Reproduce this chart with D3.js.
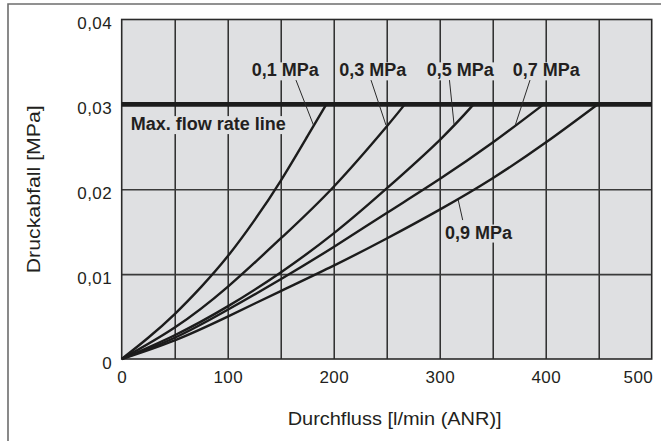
<!DOCTYPE html>
<meta charset="utf-8">
<script src="https://d3js.org/d3.v7.min.js"></script>
<style>
  body { margin: 0; background: #fff; }
  text { font-family: "Liberation Sans", Arial, Helvetica, sans-serif; fill: #231f20; }
</style>
<div id="chart"></div>
<script>
    // curve labels (supply pressure)
    var pressures = ["0,1 MPa", "0,3 MPa", "0,5 MPa", "0,7 MPa", "0,9 MPa"];

    // flow [l/min (ANR)] and pressure drop [MPa]
    var flow01 = [0, 25, 50, 75, 100, 125, 150, 175, 193];
    var drop01 = [0, 0.0025, 0.0053, 0.0085, 0.0121, 0.0163, 0.0210, 0.0262, 0.030];
    var flow03 = [0, 50, 100, 150, 200, 250, 267];
    var drop03 = [0, 0.0037, 0.0085, 0.0142, 0.0203, 0.0274, 0.030];
    var flow05 = [0, 50, 100, 150, 200, 250, 300, 332];
    var drop05 = [0, 0.0028, 0.0062, 0.0102, 0.0148, 0.0201, 0.0258, 0.030];
    var flow07 = [0, 50, 100, 150, 200, 250, 300, 350, 398];
    var drop07 = [0, 0.0025, 0.0058, 0.0094, 0.0132, 0.0172, 0.0212, 0.0255, 0.030];
    var flow09 = [0, 50, 100, 150, 200, 250, 300, 350, 400, 449];
    var drop09 = [0, 0.0022, 0.0050, 0.0080, 0.0110, 0.0142, 0.0176, 0.0213, 0.0255, 0.030];

    var maxFlowDrop = 0.03;

    // ticks
    var xTicks = [0, 100, 200, 300, 400, 500];
    var xGrid = [50, 100, 150, 200, 250, 300, 350, 400, 450];
    var yTicks = [0, 0.01, 0.02, 0.03, 0.04];

    // label anchors in data units [flow, drop]
    var labelPos = [[122.6, 0.0333], [205.3, 0.0333], [287.7, 0.0333], [368.9, 0.0333], [305, 0.01419]];
    // leader lines: [flow1, drop1, flow2, drop2]
    var leaders = [
        [164.4, 0.03286, 180.9, 0.02756],
        [235.2, 0.03286, 249.3, 0.02756],
        [309.2, 0.03286, 313.5, 0.02768],
        [385.2, 0.03286, 371.0, 0.02744],
        [317.5, 0.01873, 321.7, 0.01637]
    ];
    var maxLabelPos = [8.5, 0.02697];

    var series = [
        { flow: flow01, drop: drop01 },
        { flow: flow03, drop: drop03 },
        { flow: flow05, drop: drop05 },
        { flow: flow07, drop: drop07 },
        { flow: flow09, drop: drop09 }
    ];

    // set the dimensions and margins of the graph
    var W = 661, H = 441;
    var margin = { top: 19.5, right: 9.3, bottom: 82, left: 121.7 },
        width = W - margin.left - margin.right,
        height = H - margin.top - margin.bottom;

    var root = d3.select("#chart")
        .append("svg")
        .attr("width", W)
        .attr("height", H);

    // outer frame
    root.append("path")
        .attr("d", "M8," + H + "V4H" + W)
        .attr("fill", "none")
        .attr("stroke", "#6d6d6d")
        .attr("stroke-width", 1.6);

    var svg = root.append("g")
        .attr("transform", "translate(" + margin.left + "," + margin.top + ")");

    var x = d3.scaleLinear().domain([0, 500]).range([0, width]);
    var y = d3.scaleLinear().domain([0, 0.04]).range([height, 0]);

    // plot background
    svg.append("rect")
        .attr("width", width)
        .attr("height", height)
        .attr("fill", "#dfe0e2");

    // vertical grid
    svg.append("g")
        .attr("transform", "translate(0," + height + ")")
        .call(d3.axisBottom(x).tickValues(xGrid).tickSize(-height).tickFormat(""))
        .call(g => g.select(".domain").remove())
        .selectAll("line")
        .attr("stroke", "#1f1f1f")
        .attr("stroke-width", 1.4);

    // horizontal grid
    svg.append("g")
        .call(d3.axisLeft(y).tickValues([0.01, 0.02]).tickSize(-width).tickFormat(""))
        .call(g => g.select(".domain").remove())
        .selectAll("line")
        .attr("stroke", "#3a3a3a")
        .attr("stroke-width", 1.6);

    // plot frame
    svg.append("rect")
        .attr("width", width)
        .attr("height", height)
        .attr("fill", "none")
        .attr("stroke", "#2a2a2a")
        .attr("stroke-width", 1.6);

    // labels, with a gray box that knocks out the grid
    var labelLayer = svg.append("g");

    function addLabel(txt, fx, fy) {
        var t = labelLayer.append("text")
            .attr("x", x(fx))
            .attr("y", y(fy))
            .attr("font-size", "18px")
            .attr("font-weight", "bold")
            .text(txt);
        var b = t.node().getBBox();
        labelLayer.insert("rect", "text")
            .attr("x", b.x - 2)
            .attr("y", b.y + 2)
            .attr("width", b.width + 4)
            .attr("height", b.height - 2)
            .attr("fill", "#dfe0e2");
    }

    pressures.forEach(function (p, i) {
        addLabel(p, labelPos[i][0], labelPos[i][1]);
    });
    addLabel("Max. flow rate line", maxLabelPos[0], maxLabelPos[1]);

    // max flow rate line
    svg.append("line")
        .attr("x1", x(0))
        .attr("x2", x(500))
        .attr("y1", y(maxFlowDrop))
        .attr("y2", y(maxFlowDrop))
        .attr("stroke", "#1c1c1c")
        .attr("stroke-width", 4.8);

    // curves
    var line = d3.line()
        .x(d => x(d[0]))
        .y(d => y(d[1]))
        .curve(d3.curveNatural);

    svg.selectAll(".curve")
        .data(series)
        .enter()
        .append("path")
        .attr("class", "curve")
        .attr("d", s => line(s.flow.map((f, i) => [f, s.drop[i]])))
        .attr("fill", "none")
        .attr("stroke", "#1c1c1c")
        .attr("stroke-width", 2.4);

    // leader lines
    svg.selectAll(".leader")
        .data(leaders)
        .enter()
        .append("line")
        .attr("x1", d => x(d[0]))
        .attr("y1", d => y(d[1]))
        .attr("x2", d => x(d[2]))
        .attr("y2", d => y(d[3]))
        .attr("stroke", "#2a2a2a")
        .attr("stroke-width", 1);

    // axis labels
    var fmt = d => d === 0 ? "0" : d3.format(".2f")(d).replace(".", ",");

    svg.append("g")
        .attr("transform", "translate(0," + height + ")")
        .call(d3.axisBottom(x).tickValues(xTicks).tickSize(0).tickPadding(12))
        .call(g => g.select(".domain").remove())
        .selectAll("text")
        .attr("font-size", "17px")
        .attr("font-family", null)
        .attr("letter-spacing", "0.4px")
        .attr("text-anchor", (d, i) => i === xTicks.length - 1 ? "end" : "middle")
        .attr("dx", (d, i) => i === xTicks.length - 1 ? "1px" : null);

    svg.append("g")
        .call(d3.axisLeft(y).tickValues(yTicks).tickSize(0).tickPadding(9.7).tickFormat(fmt))
        .call(g => g.select(".domain").remove())
        .selectAll("text")
        .attr("font-size", "17px")
        .attr("font-family", null)
        .attr("letter-spacing", "0.4px")
        .attr("y", 4);

    // axis titles
    svg.append("text")
        .attr("x", width * 0.515)
        .attr("y", height + 66)
        .attr("text-anchor", "middle")
        .attr("font-size", "19px")
        .attr("textLength", 214)
        .attr("lengthAdjust", "spacingAndGlyphs")
        .text("Durchfluss [l/min (ANR)]");

    svg.append("text")
        .attr("transform", "translate(" + (-82) + "," + (height * 0.5) + ") rotate(-90)")
        .attr("text-anchor", "middle")
        .attr("font-size", "18px")
        .attr("textLength", 168)
        .attr("lengthAdjust", "spacingAndGlyphs")
        .text("Druckabfall [MPa]");
</script>
